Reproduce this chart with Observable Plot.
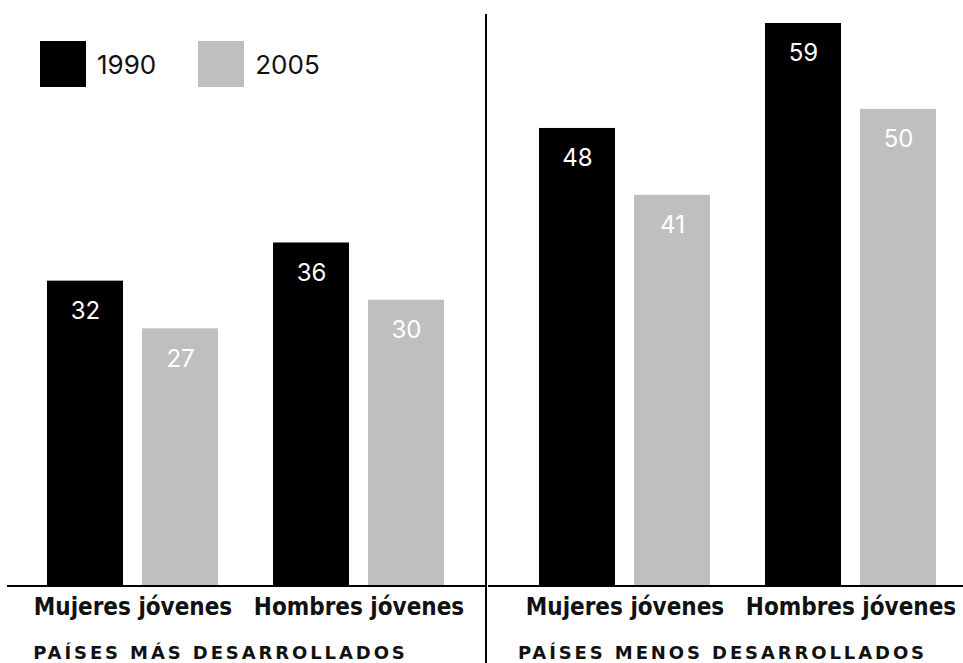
<!DOCTYPE html>
<html>
<head>
<meta charset="utf-8">
<script src="https://cdn.jsdelivr.net/npm/d3@7"></script>
<script src="https://cdn.jsdelivr.net/npm/@observablehq/plot@0.6"></script>
<style>
  html, body { margin: 0; padding: 0; background: #fff; }
  #wrap { position: relative; width: 963px; height: 663px; overflow: hidden; font-family: Inter, "Open Sans", sans-serif; }
  .panel { position: absolute; top: 0; }
  .divider { position: absolute; left: 485px; top: 14px; width: 2px; height: 649px; background: #000; }
  .legend { position: absolute; top: 41px; left: 40px; display: flex; align-items: center; font-size: 26px; color: #111; }
  .legend .sw { width: 46px; height: 46px; margin-right: 11px; }
  .legend .item { display: flex; align-items: center; margin-right: 42px; }
  .ptitle { position: absolute; top: 642px; font-family: "DejaVu Sans", sans-serif; font-weight: bold; font-size: 18px; line-height: 22px; letter-spacing: 2.9px; color: #111; text-align: center; white-space: nowrap; }
</style>
</head>
<body>
<div id="wrap"></div>
<script>
const groups = ["Mujeres jóvenes", "Hombres jóvenes"];
const years = ["1990", "2005"];
const panelTitles = ["PAÍSES MÁS DESARROLLADOS", "PAÍSES MENOS DESARROLLADOS"];
// values in order: Mujeres 1990, Mujeres 2005, Hombres 1990, Hombres 2005
const masDesarrollados = [32, 27, 36, 30];
const menosDesarrollados = [48, 41, 59, 50];
const colors = ["#000000", "#bfbfbf"];

function rowsFor(values) {
  const rows = [];
  groups.forEach((g, gi) => years.forEach((yr, yi) => {
    rows.push({group: g, year: yr, value: values[gi * 2 + yi]});
  }));
  return rows;
}

const wrap = document.getElementById("wrap");

function makePanel(values, opts) {
  const rows = rowsFor(values);
  return Plot.plot({
    width: opts.width,
    height: 663,
    marginLeft: opts.ml,
    marginRight: opts.mr,
    marginTop: 23,
    marginBottom: 77,
    fx: {domain: groups, paddingInner: 55 / 226, paddingOuter: 0, axis: null, label: null},
    x: {domain: years, paddingInner: 0.2, paddingOuter: 0, axis: null},
    y: {domain: [0, 59], axis: null},
    color: {domain: years, range: colors},
    marks: [
      Plot.barY(rows, {fx: "group", x: "year", y: "value", fill: "year"}),
      Plot.text(rows, {
        fx: "group", x: "year", y: "value", text: d => String(d.value),
        dy: 30, fill: "#ffffff", fontSize: 24, fontFamily: "Inter, 'Open Sans', sans-serif"
      }),
      Plot.ruleY([0], {stroke: "#000", strokeWidth: 2, dy: -0.5, insetLeft: -opts.extL, insetRight: -opts.mr}),
      Plot.text(groups, {
        fx: d => d, text: d => d, frameAnchor: "bottom", dy: 28,
        fontSize: 24, fontWeight: "bold", fill: "#111",
        fontFamily: "'DejaVu Sans Condensed', 'DejaVu Sans', sans-serif"
      })
    ]
  });
}

const left = makePanel(masDesarrollados, {width: 487, ml: 47, mr: 43, extL: 40});
left.classList.add("panel");
left.style.left = "0px";
left.style.fontStretch = "condensed";
wrap.appendChild(left);

const right = makePanel(menosDesarrollados, {width: 476, ml: 51, mr: 27, extL: 51});
right.classList.add("panel");
right.style.left = "487px";
right.style.fontStretch = "condensed";
wrap.appendChild(right);

const div = document.createElement("div");
div.className = "divider";
wrap.appendChild(div);

// legend
const legend = document.createElement("div");
legend.className = "legend";
years.forEach((yr, i) => {
  const item = document.createElement("div");
  item.className = "item";
  const sw = document.createElement("div");
  sw.className = "sw";
  sw.style.background = colors[i];
  const lab = document.createElement("span");
  lab.textContent = yr;
  item.appendChild(sw);
  item.appendChild(lab);
  legend.appendChild(item);
});
wrap.appendChild(legend);

// panel titles
const titleCenters = [219, 721];
panelTitles.forEach((t, i) => {
  const el = document.createElement("div");
  el.className = "ptitle";
  el.textContent = t;
  el.style.left = (titleCenters[i] - 250 + 1.45) + "px";
  el.style.width = "500px";
  wrap.appendChild(el);
});
</script>
</body>
</html>
